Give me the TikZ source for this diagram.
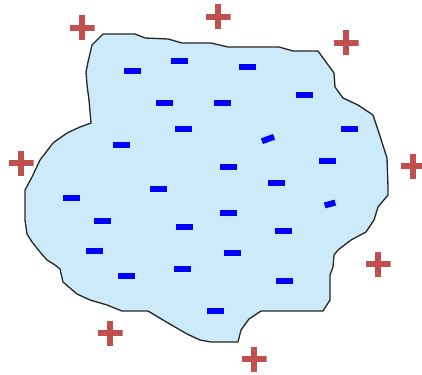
\documentclass[tikz,border=0pt]{standalone}
\definecolor{plusred}{RGB}{192,80,77}
\definecolor{minusblue}{RGB}{0,0,255}
\definecolor{regionfill}{RGB}{205,234,251}
\tikzset{
  minussign/.style={fill=minusblue, draw=none, minimum width=17pt, minimum height=6pt, inner sep=0pt, rectangle},
  plussign/.style={draw=none, minimum size=25pt, inner sep=0pt, rectangle,
    path picture={
      \draw[plusred, line width=6pt] (path picture bounding box.north) -- (path picture bounding box.south);
      \draw[plusred, line width=6pt] (path picture bounding box.west) -- (path picture bounding box.east);
    }},
  region/.style={fill=regionfill, draw=black!85, line width=1.3pt, line join=round}
}
\begin{document}
\begin{tikzpicture}[x=1pt, y=-1pt]
\useasboundingbox (0,0) rectangle (422,374);
\draw[region] (103,34) -- (135,34) -- (145,38) -- (168,39) -- (182,43) -- (211,43) -- (228,47) -- (279,47) -- (293,51) -- (318,51) -- (334,73) -- (335,87) -- (343,98) -- (358,105) -- (373,115) -- (379,133) -- (387,158) -- (388,187) -- (388,195) -- (378,207) -- (374,220) -- (366,232) -- (351,240) -- (338,250) -- (334,255) -- (333,267) -- (330,275) -- (330,300) -- (323,311) -- (261,311) -- (249,319) -- (241,330) -- (238,342) -- (211,342) -- (200,340) -- (187,334) -- (163,320) -- (148,311) -- (122,311) -- (107,305) -- (90,300) -- (77,294) -- (63,282) -- (60,269) -- (55,265) -- (47,260) -- (40,252) -- (32,242) -- (27,234) -- (25,220) -- (25,190) -- (32,177) -- (40,160) -- (53,143) -- (67,133) -- (80,127) -- (91,123) -- (89,100) -- (87,85) -- (86,72) -- (88,62) -- (92,45) -- cycle;
% minus charges
\node[minussign] (m1) at (132,71) {};
\node[minussign] (m2) at (179,61) {};
\node[minussign] (m3) at (247,67) {};
\node[minussign] (m4) at (164,103) {};
\node[minussign] (m5) at (222,103) {};
\node[minussign] (m6) at (304,95) {};
\node[minussign] (m7) at (183,129) {};
\node[minussign] (m8) at (349,129) {};
\node[minussign] (m9) at (121,145) {};
\node[minussign, rotate=20, minimum width=13pt] (m10) at (268,139) {};
\node[minussign] (m11) at (327,161) {};
\node[minussign] (m12) at (228,167) {};
\node[minussign] (m13) at (158,189) {};
\node[minussign] (m14) at (276,183) {};
\node[minussign] (m15) at (71,198) {};
\node[minussign, rotate=15, minimum width=11pt] (m16) at (330,204) {};
\node[minussign] (m17) at (102,221) {};
\node[minussign] (m18) at (228,213) {};
\node[minussign] (m19) at (184,227) {};
\node[minussign] (m20) at (283,231) {};
\node[minussign] (m21) at (94,251) {};
\node[minussign] (m22) at (232,253) {};
\node[minussign] (m23) at (126,276) {};
\node[minussign] (m24) at (182,269) {};
\node[minussign] (m25) at (284,281) {};
\node[minussign] (m26) at (215,311) {};
% plus charges
\node[plussign] (p1) at (82,28) {};
\node[plussign] (p2) at (218,17) {};
\node[plussign] (p3) at (346,43) {};
\node[plussign] (p4) at (21,163) {};
\node[plussign] (p5) at (413,166) {};
\node[plussign] (p6) at (378,264) {};
\node[plussign] (p7) at (110,333) {};
\node[plussign] (p8) at (254,359) {};
\end{tikzpicture}
\end{document}
